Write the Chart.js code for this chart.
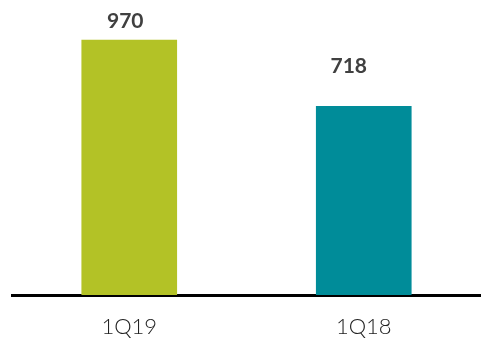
<!DOCTYPE html>
<html>
<head>
<meta charset="utf-8">
<title>1Q19 vs 1Q18</title>
<script src="https://cdn.jsdelivr.net/npm/chart.js"></script>
<style>
  html, body { margin: 0; padding: 0; background: #fff; }
  #wrap { width: 481px; height: 338px; }
</style>
</head>
<body>
<div id="wrap"><canvas id="chart"></canvas></div>
<script>
// chart data
var quarters = ['1Q19', '1Q18'];
var values = [970, 718];
var barColors = ['#b3c226', '#008c99'];

// value labels drawn above each bar
var valueLabels = {
  id: 'valueLabels',
  afterDatasetsDraw: function(chart) {
    var ctx = chart.ctx;
    var meta = chart.getDatasetMeta(0);
    var dx = [-4, -15];
    var dy = [8, 30];
    ctx.save();
    ctx.font = 'bold 21px Lato, "Open Sans", sans-serif';
    ctx.fillStyle = '#404040';
    ctx.textAlign = 'center';
    ctx.textBaseline = 'bottom';
    meta.data.forEach(function(bar, i) {
      ctx.fillText(values[i], bar.x + dx[i], bar.y - dy[i]);
    });
    ctx.restore();
  }
};

new Chart('chart', {
  type: 'bar',
  data: {
    labels: quarters,
    datasets: [{
      data: values,
      backgroundColor: barColors,
      borderWidth: 0,
      barThickness: 95,
      categoryPercentage: 1
    }]
  },
  options: {
    responsive: true,
    maintainAspectRatio: false,
    animation: false,
    layout: { padding: { left: 12, right: 0, top: 6, bottom: 0 } },
    plugins: { legend: { display: false }, tooltip: { enabled: false } },
    scales: {
      x: {
        grid: { display: false },
        border: { display: true, color: '#000', width: 3 },
        afterFit: function(scale) { scale.height = 43; },
        ticks: {
          color: '#222',
          padding: 11,
          font: { family: 'Lato, "Open Sans", sans-serif', size: 22, weight: 300 }
        }
      },
      y: {
        display: false,
        min: 0,
        max: 1100
      }
    }
  },
  plugins: [valueLabels]
});
</script>
</body>
</html>
